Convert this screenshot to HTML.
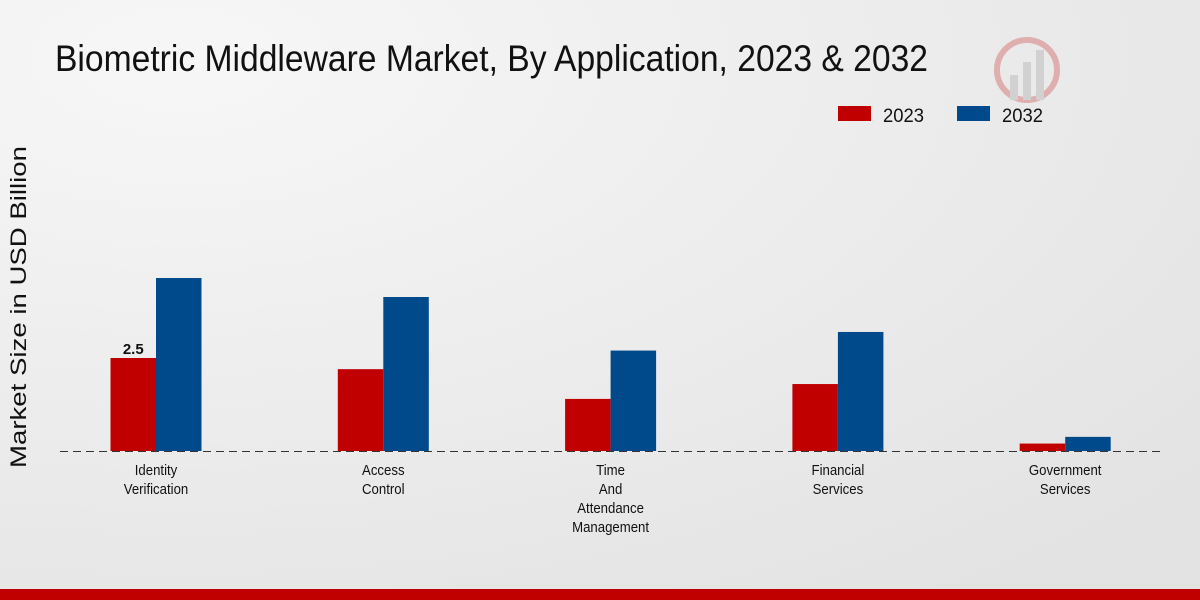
<!DOCTYPE html>
<html><head><meta charset="utf-8"><style>
html,body{margin:0;padding:0;width:1200px;height:600px;overflow:hidden;background:#ebebeb;}
svg{display:block;font-family:"Liberation Sans",sans-serif;}
</style></head><body>
<svg id="chart" width="1200" height="600">
<defs><radialGradient id="bg" cx="0.15" cy="0.1" r="1.1"><stop offset="0" stop-color="#f7f7f7"/><stop offset="1" stop-color="#e3e3e3"/></radialGradient></defs>
<rect width="1200" height="600" fill="url(#bg)"/>
<text x="55" y="71" font-size="37" textLength="873" lengthAdjust="spacingAndGlyphs" fill="#111">Biometric Middleware Market, By Application, 2023 &amp; 2032</text>
<g>
<rect x="838" y="106" width="33" height="15" fill="#c00000"/>
<text x="883" y="122" font-size="19" textLength="41" lengthAdjust="spacingAndGlyphs" fill="#111">2023</text>
<rect x="957" y="106" width="33" height="15" fill="#004a8c"/>
<text x="1002" y="122" font-size="19" textLength="41" lengthAdjust="spacingAndGlyphs" fill="#111">2032</text>
</g>
<text transform="translate(26,307) rotate(-90)" text-anchor="middle" font-size="22" textLength="322" lengthAdjust="spacingAndGlyphs" fill="#111">Market Size in USD Billion</text>
<line x1="60" y1="451.5" x2="1160" y2="451.5" stroke="#333" stroke-dasharray="8,5" stroke-width="1"/>
<g id="bars"></g>
<g id="labels"></g>
<g opacity="0.25">
<circle cx="1027" cy="70" r="30" fill="none" stroke="#c00000" stroke-width="6"/>
<rect x="1010" y="75" width="8" height="25" fill="#888"/><rect x="1023" y="62" width="8" height="38" fill="#888"/><rect x="1036" y="50" width="8" height="50" fill="#888"/>
</g>
<rect x="0" y="589" width="1200" height="11" fill="#c00000"/>
</svg>
<script>
const categories=[["Identity","Verification"],["Access","Control"],["Time","And","Attendance","Management"],["Financial","Services"],["Government","Services"]];
const values2023=[2.5,2.2,1.4,1.8,0.2];
const values2032=[4.65,4.14,2.7,3.2,0.38];
const NS="http://www.w3.org/2000/svg";
const baseY=451,pxPerUnit=37.2,x0=156,step=227.3,bw=45.5;
function yScale(v){return baseY-v*pxPerUnit;}
function xCenter(i){return x0+i*step;}
const bars=document.getElementById('bars'),labels=document.getElementById('labels');
function bar(x,v,color,name){
  const r=document.createElementNS(NS,'rect');
  r.setAttribute('x',x);r.setAttribute('y',yScale(v));r.setAttribute('width',bw);r.setAttribute('height',baseY-yScale(v));r.setAttribute('fill',color);
  
  
  bars.appendChild(r);
}
categories.forEach((c,i)=>{
  const cx=xCenter(i);
  bar(cx-bw,values2023[i],'#c00000','bar-2023-'+i);
  bar(cx,values2032[i],'#004a8c','bar-2032-'+i);
  c.forEach((line,j)=>{
    const t=document.createElementNS(NS,'text');
    t.setAttribute('x',cx);t.setAttribute('y',475+j*19);t.setAttribute('text-anchor','middle');t.setAttribute('font-size','15');t.setAttribute('fill','#111');
    t.setAttribute('transform','translate('+cx+',0) scale(0.88,1) translate('+(-cx)+',0)');
    t.textContent=line;
    
    
    labels.appendChild(t);
  });
});
const vl=document.createElementNS(NS,'text');
vl.setAttribute('x',xCenter(0)-bw/2);vl.setAttribute('y',yScale(values2023[0])-4);vl.setAttribute('text-anchor','middle');vl.setAttribute('font-size','15');vl.setAttribute('font-weight','bold');vl.setAttribute('fill','#111');
vl.textContent=values2023[0];


labels.appendChild(vl);
</script>
</body></html>
